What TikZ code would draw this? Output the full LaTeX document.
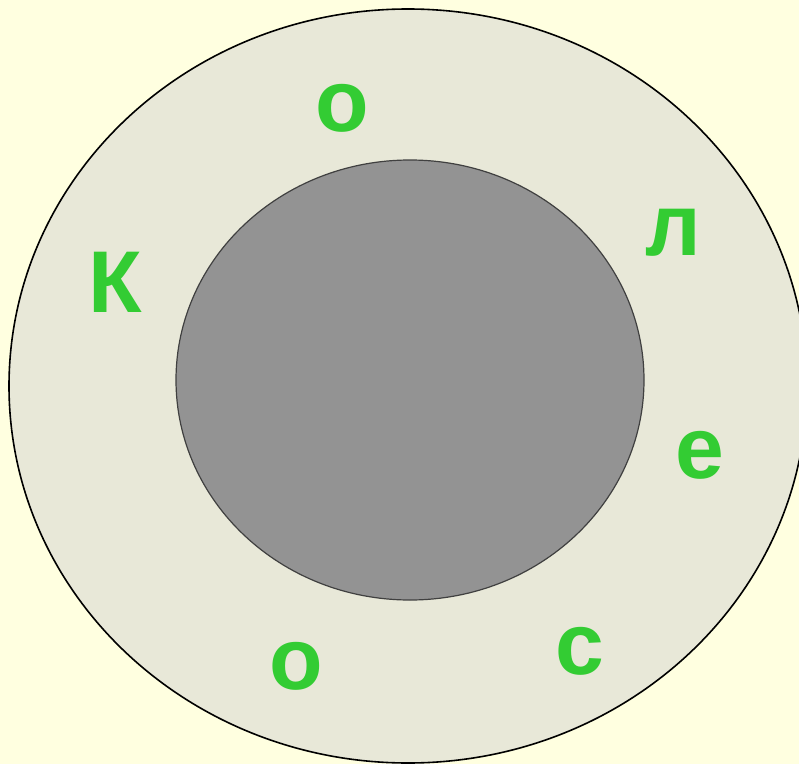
\documentclass[tikz,border=0pt]{standalone}
\usepackage{fontspec}
\setmainfont{Liberation Sans}
\definecolor{bgc}{HTML}{FFFFE0}
\definecolor{outerc}{HTML}{E8E8D8}
\definecolor{innerc}{HTML}{939393}
\definecolor{innerb}{HTML}{404040}
\definecolor{greenc}{HTML}{33CC33}
\tikzset{
  letter/.style={text=greenc, font=\fontsize{88}{88}\selectfont\bfseries, inner sep=0pt}
}
\begin{document}
\begin{tikzpicture}[x=1bp,y=-1bp]
\fill[bgc] (0,0) rectangle (799,764);
\useasboundingbox (0,0) rectangle (799,764);
\begin{scope}
\clip (0,0) rectangle (799,764);
\draw[fill=outerc, draw=black, line width=1.6bp] (408,386) ellipse [x radius=399, y radius=377];
\end{scope}
\draw[fill=innerc, draw=innerb, line width=1.2bp] (410,380) ellipse [x radius=234, y radius=220];
\node[letter] (k) at (115,282) {К};
\node[letter] (o1) at (342,108) {о};
\node[letter] (l) at (673,233) {л};
\node[letter] (e) at (700,455) {е};
\node[letter] (s) at (580,651) {с};
\node[letter] (o2) at (296,666) {о};
\end{tikzpicture}
\end{document}
